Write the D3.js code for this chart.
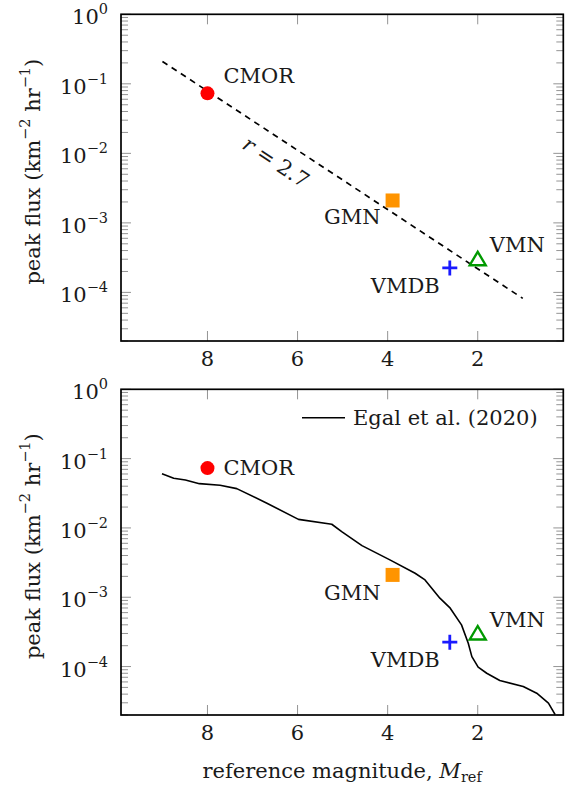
<!DOCTYPE html>
<html lang="en">
<head>
<meta charset="utf-8">
<title>Peak flux vs reference magnitude</title>
<script src="https://d3js.org/d3.v7.min.js"></script>
<style>
  body { margin: 0; background: #fff; }
  svg text { fill: #1a1a1a; }
</style>
</head>
<body>
<script>
// ---- data ----
var networks = ["CMOR", "GMN", "VMDB", "VMN"]
var netMag = [8.0, 3.89, 2.62, 2.0]
var netFlux = [0.073, 0.0021, 0.000225, 0.00029]

// dashed power law (r = 2.7), end points
var lawMag = [9.0, 1.0]
var lawFlux = [0.21, 0.000082]

// Egal et al. (2020) model curve
var egalMag = [9.01, 8.75, 8.49, 8.18, 7.72, 7.35, 6.68, 5.98, 5.24, 5.02, 4.57, 3.95,
               3.39, 3.17, 2.84, 2.61, 2.36, 2.21, 2.13, 1.99, 1.80, 1.51, 0.99, 0.69, 0.43, 0.28]
var egalFlux = [0.0607, 0.0521, 0.0492, 0.0435, 0.0413, 0.0369, 0.0227, 0.0133, 0.0113, 0.00885,
                0.00556, 0.00346, 0.00222, 0.00178, 0.000969, 0.000695, 0.000399, 0.000217,
                0.000139, 0.000098, 0.00008, 0.000063, 0.0000515, 0.0000413, 0.0000297, 0.0000202]

var xTicks = [8, 6, 4, 2]
var yTicks = [1, 0.1, 0.01, 0.001, 0.0001]
var yExp = ["0", "\u22121", "\u22122", "\u22123", "\u22124"]

// ---- layout ----
var width = 567, height = 785
var left = 121, right = 563.3
var FONT = "DejaVu Serif"
var FS = 21, SUP = 14.5
var panels = [
  { top: 14.3, bottom: 341, id: "a", egal: false, labels: {CMOR: [16, -10, "start"], GMN: [-12, 24, "end"], VMDB: [-10, 25, "end"], VMN: [12, -8, "start"]} },
  { top: 389.3, bottom: 715, id: "b", egal: true, labels: {CMOR: [16, 7, "start"], GMN: [-12, 25, "end"], VMDB: [-10, 25, "end"], VMN: [12, -8, "start"]} }
]

var svg = d3.select("body").append("svg")
  .attr("width", width)
  .attr("height", height)

var x = d3.scaleLinear().domain([9.92, 0.1]).range([left, right])

function txt(sel) {
  return sel.append("text").attr("font-family", FONT).attr("font-size", FS)
}

panels.forEach(function(p) {
  var y = d3.scaleLog().domain([2e-5, 1]).range([p.bottom, p.top])
  var g = svg.append("g")

  g.append("clipPath").attr("id", "clip" + p.id)
    .append("rect")
    .attr("x", left).attr("y", p.top)
    .attr("width", right - left).attr("height", p.bottom - p.top)

  // minor y ticks (both sides, inward)
  var minors = []
  for (var e = -5; e < 0; e++) {
    for (var k = 2; k <= 9; k++) {
      var v = k * Math.pow(10, e)
      if (v >= 2e-5 && v < 1) minors.push(v)
    }
  }
  var tickG = g.append("g").attr("stroke", "#888").attr("stroke-width", 0.9)
  minors.forEach(function(v) {
    tickG.append("line").attr("x1", left).attr("x2", left + 7).attr("y1", y(v)).attr("y2", y(v))
    tickG.append("line").attr("x1", right).attr("x2", right - 7).attr("y1", y(v)).attr("y2", y(v))
  })
  yTicks.forEach(function(v) {
    tickG.append("line").attr("x1", left).attr("x2", left + 10).attr("y1", y(v)).attr("y2", y(v))
    tickG.append("line").attr("x1", right).attr("x2", right - 10).attr("y1", y(v)).attr("y2", y(v))
  })
  xTicks.forEach(function(v) {
    tickG.append("line").attr("x1", x(v)).attr("x2", x(v)).attr("y1", p.bottom).attr("y2", p.bottom - 10)
    tickG.append("line").attr("x1", x(v)).attr("x2", x(v)).attr("y1", p.top).attr("y2", p.top + 10)
  })

  // y tick labels 10^n
  yTicks.forEach(function(v, i) {
    var t = txt(g)
      .attr("x", left - 13).attr("y", y(v) + 10)
      .attr("text-anchor", "end")
    t.append("tspan").text("10")
    t.append("tspan").attr("dy", -10).attr("font-size", SUP).text(yExp[i])
  })

  // x tick labels
  xTicks.forEach(function(v) {
    txt(g)
      .attr("x", x(v)).attr("y", p.bottom + 25)
      .attr("text-anchor", "middle")
      .text(v)
  })

  // y axis title
  var yt = txt(g)
    .attr("transform", "translate(40," + ((p.top + p.bottom) / 2 - 6) + ") rotate(-90)")
    .attr("text-anchor", "middle")
  yt.append("tspan").text("peak flux (km")
  yt.append("tspan").attr("dy", -10).attr("font-size", SUP).text("\u22122")
  yt.append("tspan").attr("dy", 10).text(" hr")
  yt.append("tspan").attr("dy", -10).attr("font-size", SUP).text("\u22121")
  yt.append("tspan").attr("dy", 10).text(")")

  var plot = g.append("g").attr("clip-path", "url(#clip" + p.id + ")")

  if (!p.egal) {
    var law = lawMag.map(function(m, i) { return [m, lawFlux[i]] })
    plot.append("path")
      .attr("d", d3.line().x(function(d) { return x(d[0]) }).y(function(d) { return y(d[1]) })(law))
      .attr("fill", "none")
      .attr("stroke", "#000")
      .attr("stroke-width", 1.7)
      .attr("stroke-dasharray", "6,5")
    // r = 2.7 label along the line
    var x0 = x(lawMag[0]), y0 = y(lawFlux[0]), x1 = x(lawMag[1]), y1 = y(lawFlux[1])
    var ang = Math.atan2(y1 - y0, x1 - x0) * 180 / Math.PI
    var lx = 288, ly = y0 + (lx - x0) * (y1 - y0) / (x1 - x0)
    var rt = txt(g)
      .attr("transform", "translate(" + lx + "," + ly + ") rotate(" + ang + ") translate(0,29)")
      .attr("text-anchor", "middle")
    rt.append("tspan").attr("font-style", "italic").text("r")
    rt.append("tspan").text(" = 2.7")
  } else {
    var eg = egalMag.map(function(m, i) { return [m, egalFlux[i]] })
    plot.append("path")
      .attr("d", d3.line().x(function(d) { return x(d[0]) }).y(function(d) { return y(d[1]) })(eg))
      .attr("fill", "none")
      .attr("stroke", "#000")
      .attr("stroke-width", 1.6)
      .attr("stroke-linejoin", "round")
    // legend
    g.append("line")
      .attr("x1", 302).attr("x2", 345).attr("y1", 417.7).attr("y2", 417.7)
      .attr("stroke", "#000").attr("stroke-width", 1.6)
    txt(g)
      .attr("x", 353).attr("y", 425)
      .text("Egal et al. (2020)")
  }

  // markers
  var px = function(i) { return x(netMag[i]) }
  var py = function(i) { return y(netFlux[i]) }
  g.append("circle").attr("cx", px(0)).attr("cy", py(0)).attr("r", 7).attr("fill", "#ff0000")
  g.append("rect").attr("x", px(1) - 7).attr("y", py(1) - 7).attr("width", 14).attr("height", 14).attr("fill", "#ff9400")
  g.append("path")
    .attr("d", "M" + (px(2) - 7.5) + "," + py(2) + "h15M" + px(2) + "," + (py(2) - 7.5) + "v15")
    .attr("stroke", "#1a1aff").attr("stroke-width", 2.8)
  g.append("path")
    .attr("d", "M" + px(3) + "," + (py(3) - 8.5) + "L" + (px(3) + 8) + "," + (py(3) + 5) + "L" + (px(3) - 8) + "," + (py(3) + 5) + "Z")
    .attr("fill", "none").attr("stroke", "#009900").attr("stroke-width", 2.4)

  networks.forEach(function(n, i) {
    var o = p.labels[n]
    txt(g)
      .attr("x", px(i) + o[0]).attr("y", py(i) + o[1])
      .attr("text-anchor", o[2])
      .text(n)
  })

  // frame
  g.append("rect")
    .attr("x", left).attr("y", p.top)
    .attr("width", right - left).attr("height", p.bottom - p.top)
    .attr("fill", "none").attr("stroke", "#000").attr("stroke-width", 1.7)
})

// x axis title
var xt = txt(svg)
  .attr("x", (left + right) / 2).attr("y", 778)
  .attr("text-anchor", "middle")
xt.append("tspan").text("reference magnitude, ")
xt.append("tspan").attr("font-style", "italic").text("M")
xt.append("tspan").attr("dy", 4).attr("font-size", SUP).text("ref")
</script>
</body>
</html>
